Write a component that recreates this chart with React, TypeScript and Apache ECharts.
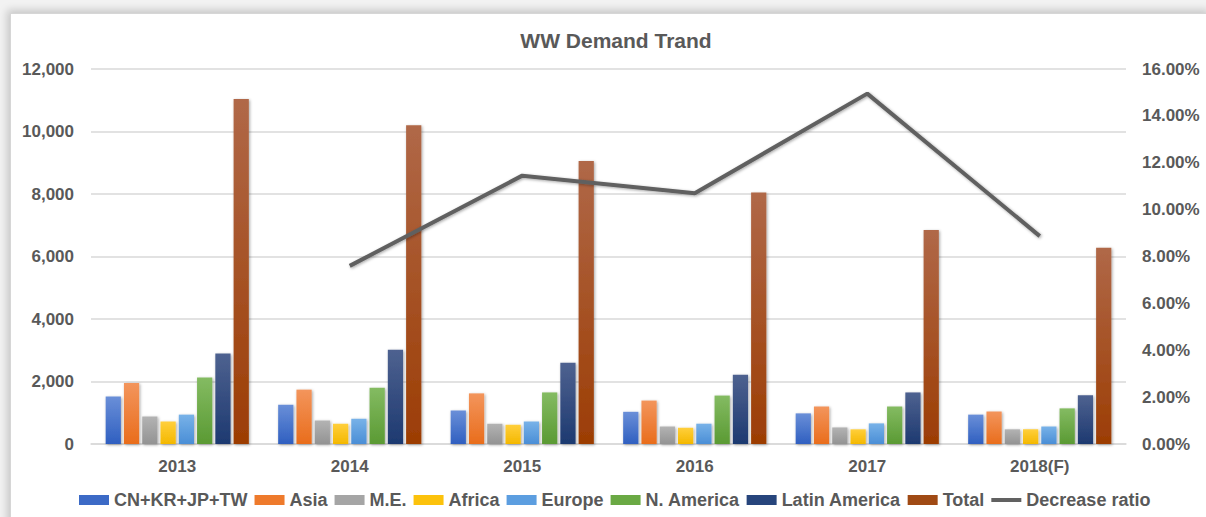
import React, { useEffect, useRef } from "react";
import * as echarts from "echarts";

const categories = ["2013", "2014", "2015", "2016", "2017", "2018(F)"];
const seriesNames = ["CN+KR+JP+TW", "Asia", "M.E.", "Africa", "Europe", "N. America", "Latin America", "Total"];
const cnKrJpTw = [1520, 1260, 1070, 1030, 980, 940];
const asia = [1950, 1740, 1620, 1390, 1200, 1040];
const middleEast = [880, 750, 650, 560, 530, 470];
const africa = [720, 650, 620, 520, 470, 470];
const europe = [940, 810, 720, 650, 660, 560];
const nAmerica = [2130, 1800, 1650, 1550, 1200, 1140];
const latinAmerica = [2900, 3020, 2600, 2220, 1650, 1560];
const total = [11040, 10200, 9060, 8050, 6850, 6280];
const decreaseRatio: (number | string)[] = ["-", 7.6, 11.45, 10.7, 14.95, 8.87];
const leftTicks = { min: 0, max: 12000, interval: 2000 };
const rightTicks = { min: 0, max: 16, interval: 2 };

const barColors: [string, string][] = [
  ["#6a8fd8", "#2f5fc0"],
  ["#f3955c", "#e96d1c"],
  ["#b3b3b3", "#939393"],
  ["#ffcf3c", "#f4b800"],
  ["#78b2e8", "#4a8ed6"],
  ["#84bb62", "#5a9a33"],
  ["#4e6290", "#1d3970"],
  ["#b06848", "#9c3d04"],
];
const legendColors = ["#3c6ac6", "#ee7a2c", "#a5a5a5", "#fcc20c", "#5c9ee0", "#6aa944", "#27457c", "#a04a14"];

const textColor = "#595959";
const font = "'Liberation Sans', Arial, sans-serif";
const lineIcon = "path://M0,0 L0.01,0 Z M0,10 L0.01,10 Z M0,3 L30,3 L30,7 L0,7 Z";

export default function App() {
  const ref = useRef<HTMLDivElement>(null);
  useEffect(() => {
    if (!ref.current) return;
    const chart = echarts.init(ref.current, undefined, { renderer: "svg" });
    const values = [cnKrJpTw, asia, middleEast, africa, europe, nAmerica, latinAmerica, total];
    const bars = values.map((data, i) => ({
      name: seriesNames[i],
      type: "bar",
      data,
      barGap: "20%",
      barCategoryGap: "17%",
      itemStyle: {
        color: new echarts.graphic.LinearGradient(0, 0, 0, 1, [
          { offset: 0, color: barColors[i][0] },
          { offset: 1, color: barColors[i][1] },
        ]),
        shadowBlur: 3,
        shadowColor: "rgba(0,0,0,0.35)",
        shadowOffsetX: 1,
        shadowOffsetY: 1,
      },
    }));
    chart.setOption({
      animation: false,
      backgroundColor: "transparent",
      title: {
        text: "WW Demand Trand",
        left: 611,
        top: 25,
        textAlign: "center",
        textStyle: { color: textColor, fontSize: 21, fontWeight: "bold", fontFamily: font },
      },
      grid: { left: 91, right: 80, top: 69, bottom: 73, containLabel: false },
      legend: {
        left: 74,
        top: 486,
        itemWidth: 30,
        itemHeight: 10,
        itemGap: 7,
        textStyle: { color: textColor, fontSize: 18, fontWeight: "bold", fontFamily: font },
        data: [
          ...seriesNames.map((n, i) => ({ name: n, icon: "rect", itemStyle: { color: legendColors[i] } })),
          { name: "Decrease ratio", icon: lineIcon, itemStyle: { color: "#616161" } },
        ],
      },
      xAxis: {
        type: "category",
        data: categories,
        axisLine: { lineStyle: { color: "#d9d9d9", width: 1.5 } },
        axisTick: { show: false },
        axisLabel: { color: textColor, fontSize: 17, fontWeight: "bold", fontFamily: font, margin: 14 },
      },
      yAxis: [
        {
          type: "value",
          ...leftTicks,
          axisLine: { show: false },
          axisTick: { show: false },
          splitLine: { lineStyle: { color: "#d9d9d9", width: 1.5 } },
          axisLabel: {
            color: textColor,
            fontSize: 17,
            fontWeight: "bold",
            fontFamily: font,
            margin: 17,
            formatter: (v: number) => v.toLocaleString("en-US"),
          },
        },
        {
          type: "value",
          ...rightTicks,
          position: "right",
          axisLine: { show: false },
          axisTick: { show: false },
          splitLine: { show: false },
          axisLabel: {
            color: textColor,
            fontSize: 17,
            fontWeight: "bold",
            fontFamily: font,
            margin: 16,
            formatter: (v: number) => v.toFixed(2) + "%",
          },
        },
      ],
      series: [
        ...bars,
        {
          name: "Decrease ratio",
          type: "line",
          yAxisIndex: 1,
          data: decreaseRatio,
          symbol: "none",
          color: "#616161",
          lineStyle: {
            color: "#616161",
            width: 4,
            shadowBlur: 3,
            shadowColor: "rgba(0,0,0,0.35)",
            shadowOffsetX: 1,
            shadowOffsetY: 1,
          },
          z: 5,
        },
      ],
    });
    return () => chart.dispose();
  }, []);
  return (
    <div style={{ position: "fixed", left: 0, top: 0, width: 1206, height: 517, background: "#f2f2f2", overflow: "hidden" }}>
      <div
        style={{
          position: "absolute",
          left: 10,
          top: 13,
          width: 1200,
          height: 520,
          background: "#ffffff",
          border: "1px solid #d6d6d6",
          boxShadow: "-3px -3px 8px rgba(0,0,0,0.18)",
        }}
      />
      <div ref={ref} style={{ position: "absolute", left: 0, top: 0, width: 1206, height: 517 }} />
    </div>
  );
}
